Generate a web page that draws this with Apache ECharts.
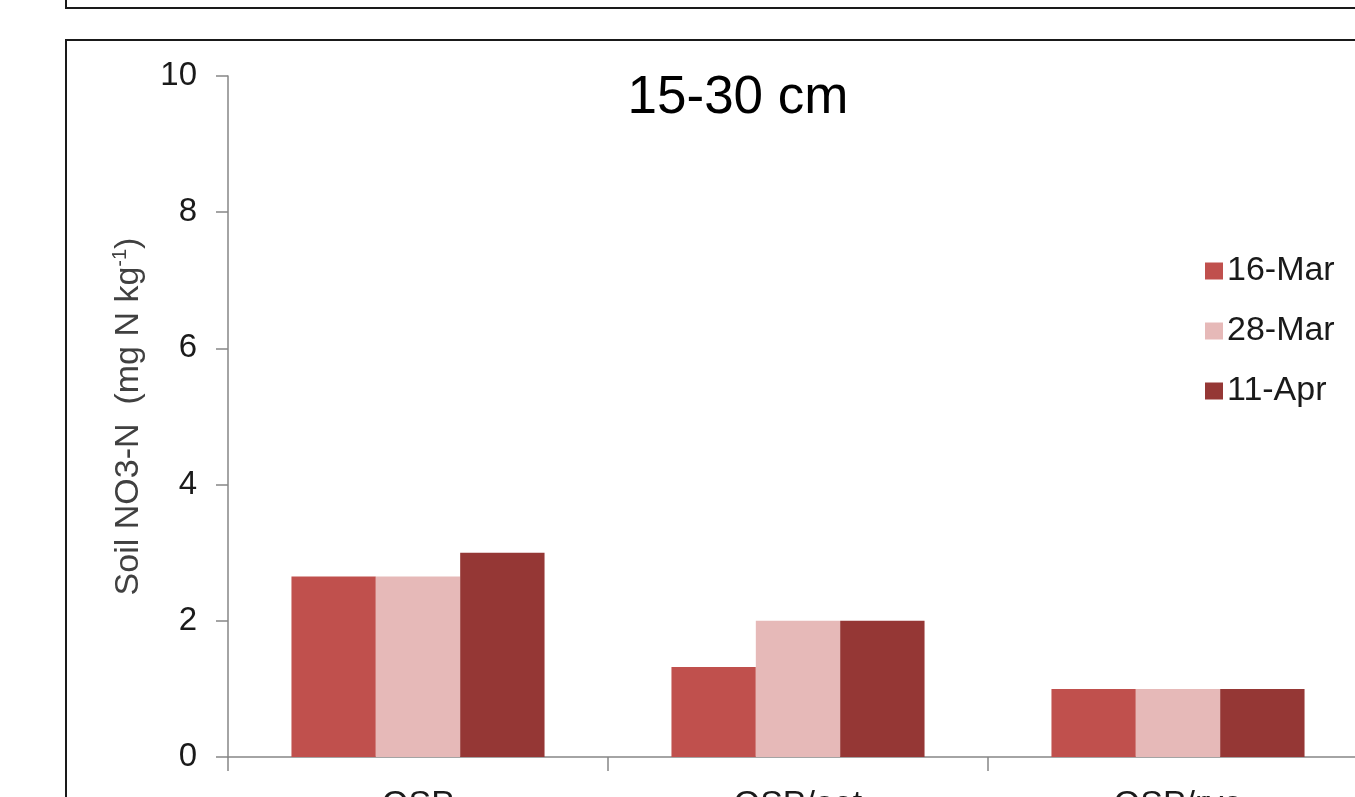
<!DOCTYPE html>
<html>
<head>
<meta charset="utf-8">
<script src="https://cdn.jsdelivr.net/npm/echarts@6/dist/echarts.min.js"></script>
<style>
html,body{margin:0;padding:0;background:#fff;}
#chart{width:1355px;height:797px;}
</style>
</head>
<body>
<div id="chart"></div>
<script>
const categories = ['OSP', 'OSP/oat', 'OSP/rye'];
const seriesNames = ['16-Mar', '28-Mar', '11-Apr'];
const mar16 = [2.65, 1.32, 1.0];
const mar28 = [2.65, 2.0, 1.0];
const apr11 = [3.0, 2.0, 1.0];
const yTicks = { min: 0, max: 10, interval: 2 };
const colors = ['#C0504D', '#E6B9B8', '#953735'];
const titleText = '15-30 cm';
const yAxisTitle = 'Soil NO3-N  (mg N kg{sup|-1})';

const font = '"Liberation Sans", Arial, sans-serif';
const chart = echarts.init(document.getElementById('chart'));
const values = [mar16, mar28, apr11];
chart.setOption({
  animation: false,
  color: colors,
  title: {
    text: titleText, left: 738, top: 72, textAlign: 'center', padding: 0,
    textStyle: { fontFamily: font, fontSize: 53, fontWeight: 'normal', color: '#000' }
  },
  legend: {
    orient: 'vertical', left: 1205, top: 254, padding: 0,
    itemWidth: 18, itemHeight: 17, itemGap: 26,
    icon: 'rect',
    data: seriesNames,
    textStyle: { fontFamily: font, fontSize: 34, lineHeight: 34, color: '#1a1a1a', padding: [0, 0, 0, -1] }
  },
  grid: { left: 228, right: -13, top: 76, bottom: 40, containLabel: false, outerBoundsMode: 'none' },
  xAxis: {
    type: 'category', data: categories,
    axisLine: { lineStyle: { color: '#868686', width: 1.5 } },
    axisTick: { show: true, length: 14, lineStyle: { color: '#868686', width: 1.5 } },
    axisLabel: { fontFamily: font, fontSize: 34, color: '#1a1a1a', margin: 31 }
  },
  yAxis: {
    type: 'value', min: yTicks.min, max: yTicks.max, interval: yTicks.interval,
    name: yAxisTitle, nameLocation: 'middle', nameGap: 80, nameRotate: 90,
    nameTextStyle: {
      fontFamily: font, fontSize: 34, color: '#404040', lineHeight: 38,
      rich: { sup: { fontFamily: font, fontSize: 20, color: '#404040', verticalAlign: 'top', lineHeight: 38, padding: [0, 0, 12, 0] } }
    },
    axisLine: { show: true, lineStyle: { color: '#868686', width: 1.5 } },
    axisTick: { show: true, length: 12, lineStyle: { color: '#868686', width: 1.5 } },
    splitLine: { show: false },
    axisLabel: { fontFamily: font, fontSize: 33, color: '#1a1a1a', margin: 31 }
  },
  series: seriesNames.map((n, i) => ({
    name: n, type: 'bar', data: values[i],
    barGap: '0%', barCategoryGap: '33.4%',
    itemStyle: { color: colors[i] }
  })),
  graphic: [
    { type: 'rect', shape: { x: 66, y: 40, width: 1400, height: 900 }, style: { fill: null, stroke: '#1a1a1a', lineWidth: 2 }, silent: true },
    { type: 'polyline', shape: { points: [[66, 0], [66, 8], [1400, 8]] }, style: { fill: null, stroke: '#1a1a1a', lineWidth: 2 }, silent: true }
  ]
});
</script>
</body>
</html>
